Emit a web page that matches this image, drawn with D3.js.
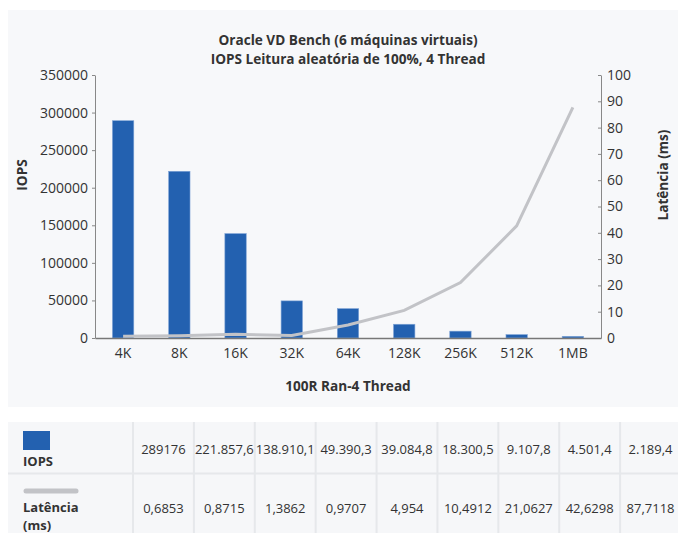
<!DOCTYPE html>
<html>
<head>
<meta charset="utf-8">
<script src="https://cdn.jsdelivr.net/npm/d3@7"></script>
<style>
  body { margin: 0; background: #fff; font-family: "Open Sans", sans-serif; }
  #chart { width: 678px; height: 533px; }
</style>
</head>
<body>
<div id="chart"></div>
<script>
// data
const categories = ["4K", "8K", "16K", "32K", "64K", "128K", "256K", "512K", "1MB"];
const iops = [289176, 221857.6, 138910.1, 49390.3, 39084.8, 18300.5, 9107.8, 4501.4, 2189.4];
const latency = [0.6853, 0.8715, 1.3862, 0.9707, 4.954, 10.4912, 21.0627, 42.6298, 87.7118];
const iopsLabels = ["289176", "221.857,6", "138.910,1", "49.390,3", "39.084,8", "18.300,5", "9.107,8", "4.501,4", "2.189,4"];
const latencyLabels = ["0,6853", "0,8715", "1,3862", "0,9707", "4,954", "10,4912", "21,0627", "42,6298", "87,7118"];
const iopsTicks = [0, 50000, 100000, 150000, 200000, 250000, 300000, 350000];
const latTicks = [0, 10, 20, 30, 40, 50, 60, 70, 80, 90, 100];

const width = 678, height = 533;
const barColor = "#2361b0";
const lineColor = "#c2c3c7";
const textColor = "#333";

const svg = d3.select("#chart").append("svg")
    .attr("width", width)
    .attr("height", height);

// chart panel
svg.append("rect")
    .attr("x", 8).attr("y", 10)
    .attr("width", width - 8).attr("height", 397)
    .attr("fill", "#f7f8fa");

const plotLeft = 95, plotRight = 601, plotTop = 75, plotBottom = 338;

const x = d3.scaleBand().domain(categories).range([plotLeft, plotRight]).paddingInner(0.62).paddingOuter(0.31);
const xc = d => x(d) + x.bandwidth() / 2;
const y = d3.scaleLinear().domain([0, 350000]).range([plotBottom, plotTop]);
const y2 = d3.scaleLinear().domain([0, 100]).range([plotBottom, plotTop]);

// title
svg.append("text")
    .attr("x", 348).attr("y", 45)
    .attr("text-anchor", "middle")
    .attr("font-weight", "bold").attr("font-size", 13.6)
    .attr("fill", textColor)
    .text("Oracle VD Bench (6 máquinas virtuais)");
svg.append("text")
    .attr("x", 348).attr("y", 64)
    .attr("text-anchor", "middle")
    .attr("font-weight", "bold").attr("font-size", 13.6)
    .attr("fill", textColor)
    .text("IOPS Leitura aleatória de 100%, 4 Thread");

// bars
svg.append("g")
    .selectAll("rect")
    .data(iops)
    .join("rect")
    .attr("x", (d, i) => x(categories[i]))
    .attr("y", d => y(d))
    .attr("width", x.bandwidth())
    .attr("height", d => plotBottom - y(d))
    .attr("fill", barColor)
    .attr("stroke", "#7ea3d6")
    .attr("stroke-width", 0.6);

// left axis
const yAxis = svg.append("g")
    .attr("transform", `translate(${plotLeft},0)`)
    .call(d3.axisLeft(y).tickValues(iopsTicks).tickFormat(d3.format("d")).tickSize(3).tickSizeOuter(0).tickPadding(4));
yAxis.select(".domain").attr("stroke", "#888");
yAxis.selectAll(".tick line").attr("stroke", "#888");
yAxis.selectAll("text").attr("font-size", 14).attr("fill", textColor).attr("font-family", "Open Sans");

// right axis
const y2Axis = svg.append("g")
    .attr("transform", `translate(${plotRight},0)`)
    .call(d3.axisLeft(y2).tickValues(latTicks).tickSize(3).tickSizeOuter(0));
y2Axis.select(".domain").attr("stroke", "#888");
y2Axis.selectAll(".tick line").attr("stroke", "#888");
y2Axis.selectAll("text").attr("text-anchor", "start").attr("x", 6)
    .attr("font-size", 14).attr("fill", textColor).attr("font-family", "Open Sans");

// x axis
const xAxis = svg.append("g")
    .attr("transform", `translate(0,${plotBottom})`)
    .call(d3.axisBottom(x).tickSize(0).tickPadding(10));
xAxis.select(".domain").attr("stroke", "#777").attr("stroke-width", 1.5);
xAxis.selectAll("text").attr("font-size", 14).attr("fill", textColor).attr("font-family", "Open Sans");

// latency line
svg.append("path")
    .datum(latency)
    .attr("fill", "none")
    .attr("stroke", lineColor)
    .attr("stroke-width", 3)
    .attr("d", d3.line().x((d, i) => xc(categories[i])).y(d => y2(d)));

// axis titles
svg.append("text")
    .attr("x", 348).attr("y", 391)
    .attr("text-anchor", "middle")
    .attr("font-weight", "bold").attr("font-size", 13.6)
    .attr("fill", textColor)
    .text("100R Ran-4 Thread");
svg.append("text")
    .attr("transform", "translate(27,175) rotate(-90)")
    .attr("text-anchor", "middle")
    .attr("font-weight", "bold").attr("font-size", 13.6)
    .attr("fill", textColor)
    .text("IOPS");
svg.append("text")
    .attr("transform", "translate(668,175) rotate(-90)")
    .attr("text-anchor", "middle")
    .attr("font-weight", "bold").attr("font-size", 13.6)
    .attr("fill", textColor)
    .text("Latência (ms)");

// table
const tableTop = 422, rowH = 51, firstCol = 133;
const colW = (681 - firstCol) / categories.length;
const table = svg.append("g");
table.append("rect")
    .attr("x", 8).attr("y", tableTop)
    .attr("width", width - 8).attr("height", height - tableTop)
    .attr("fill", "#f6f7f9");
// grid lines
table.append("line")
    .attr("x1", 8).attr("x2", width)
    .attr("y1", tableTop + rowH + 0.5).attr("y2", tableTop + rowH + 0.5)
    .attr("stroke", "#e6e8eb").attr("stroke-width", 2);
table.selectAll(".vline")
    .data(d3.range(categories.length))
    .join("line")
    .attr("class", "vline")
    .attr("x1", i => firstCol + i * colW).attr("x2", i => firstCol + i * colW)
    .attr("y1", tableTop).attr("y2", height)
    .attr("stroke", "#e6e8eb").attr("stroke-width", 2);

// legend cells
table.append("rect")
    .attr("x", 23).attr("y", 431).attr("width", 27).attr("height", 19)
    .attr("fill", barColor);
table.append("text")
    .attr("x", 23).attr("y", 466)
    .attr("font-weight", "bold").attr("font-size", 13).attr("fill", textColor)
    .text("IOPS");
table.append("line")
    .attr("x1", 26).attr("x2", 76).attr("y1", 491).attr("y2", 491)
    .attr("stroke", lineColor).attr("stroke-width", 5).attr("stroke-linecap", "round");
table.append("text")
    .attr("x", 23).attr("y", 512)
    .attr("font-weight", "bold").attr("font-size", 13).attr("fill", textColor)
    .text("Latência");
table.append("text")
    .attr("x", 23).attr("y", 530)
    .attr("font-weight", "bold").attr("font-size", 13).attr("fill", textColor)
    .text("(ms)");

table.selectAll(".iopsv")
    .data(iopsLabels)
    .join("text")
    .attr("class", "iopsv")
    .attr("x", (d, i) => firstCol + (i + 0.5) * colW)
    .attr("y", 454)
    .attr("text-anchor", "middle")
    .attr("font-size", 13).attr("fill", textColor)
    .text(d => d);
table.selectAll(".latv")
    .data(latencyLabels)
    .join("text")
    .attr("class", "latv")
    .attr("x", (d, i) => firstCol + (i + 0.5) * colW)
    .attr("y", 513)
    .attr("text-anchor", "middle")
    .attr("font-size", 13).attr("fill", textColor)
    .text(d => d);
</script>
</body>
</html>
